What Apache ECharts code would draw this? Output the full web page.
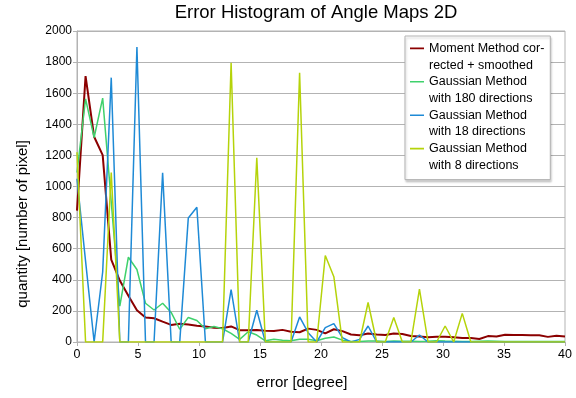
<!DOCTYPE html>
<html>
<head>
<meta charset="utf-8">
<script src="https://cdn.jsdelivr.net/npm/echarts@6/dist/echarts.min.js"></script>
<style>
html,body{margin:0;padding:0;background:#fff;}
#chart{width:576px;height:398px;}
</style>
</head>
<body>
<div id="chart"></div>
<script>
// error bins [degree]
const errorDeg = [0, 0.702, 1.404, 2.105, 2.807, 3.509, 4.211, 4.912, 5.614, 6.316,
  7.018, 7.719, 8.421, 9.123, 9.825, 10.526, 11.228, 11.930, 12.632, 13.333,
  14.035, 14.737, 15.439, 16.140, 16.842, 17.544, 18.246, 18.947, 19.649, 20.351,
  21.053, 21.754, 22.456, 23.158, 23.860, 24.561, 25.263, 25.965, 26.667, 27.368,
  28.070, 28.772, 29.474, 30.175, 30.877, 31.579, 32.281, 32.982, 33.684, 34.386,
  35.088, 35.789, 36.491, 37.193, 37.895, 38.596, 39.298, 40];

const momentSmoothed = [845, 1710, 1320, 1202, 530, 395, 297, 204, 157, 153,
  131, 110, 118, 112, 105, 99, 92, 90, 100, 76,
  75, 77, 72, 71, 78, 66, 63, 86, 78, 55,
  82, 70, 48, 44, 55, 48, 45, 55, 52, 39,
  36, 30, 33, 33, 30, 25, 26, 19, 38, 36,
  47, 45, 45, 44, 44, 33, 40, 35];

const gauss180 = [1090, 1564, 1315, 1568, 900, 230, 545, 466, 249, 206,
  249, 190, 82, 158, 138, 85, 100, 85, 55, 17,
  66, 45, 8, 17, 12, 8, 17, 17, 8, 24,
  32, 12, 3, 3, 6, 6, 4, 6, 5, 5,
  4, 5, 8, 6, 5, 4, 4, 5, 6, 5,
  4, 4, 4, 3, 4, 3, 3, 3];

const gauss18 = [1050, 520, 0, 450, 1700, 0, 0, 1897, 0, 0,
  1088, 0, 0, 798, 867, 0, 0, 0, 337, 0,
  0, 204, 0, 0, 0, 0, 161, 60, 0, 92,
  118, 28, 0, 17, 103, 0, 0, 0, 0, 0,
  45, 0, 0, 0, 0, 0, 0, 0, 0, 0,
  0, 0, 0, 0, 0, 0, 0, 0];

const gauss8 = [1220, 0, 0, 0, 1090, 0, 0, 0, 0, 0,
  0, 0, 0, 0, 0, 0, 0, 0, 1796, 0,
  0, 1185, 0, 0, 0, 0, 1732, 0, 0, 556,
  420, 0, 0, 0, 254, 0, 0, 158, 0, 0,
  340, 0, 0, 103, 0, 184, 0, 0, 0, 0,
  0, 0, 0, 0, 0, 0, 0, 0];

const seriesNames = [
  'Moment Method cor-\nrected + smoothed',
  'Gaussian Method\nwith 180 directions',
  'Gaussian Method\nwith 18 directions',
  'Gaussian Method\nwith 8 directions'
];
const seriesValues = [momentSmoothed, gauss180, gauss18, gauss8];
const seriesColors = ['#8b0000', '#3fd16c', '#1e8ad6', '#b5d30a'];
const seriesWidths = [2, 1.5, 1.5, 1.5];

const xTickInterval = 5;
const yTickInterval = 200;

const FONT = '"Liberation Sans", Arial, sans-serif';
const chart = echarts.init(document.getElementById('chart'), null, {renderer: 'canvas'});

const iconPath = 'path://M0,7.6L14,7.6L14,9.2L0,9.2Z M0,0L0.01,0L0,0.01Z M13.99,33.4L14,33.4L14,33.39Z';

chart.setOption({
  animation: false,
  backgroundColor: '#fff',
  textStyle: {fontFamily: FONT},
  title: {
    text: 'Error Histogram of Angle Maps 2D',
    left: 316,
    textAlign: 'center',
    top: 3,
    padding: 0,
    textStyle: {fontSize: 18.5, fontWeight: 'normal', color: '#000', fontFamily: FONT}
  },
  grid: {
    left: 77, right: 11, top: 31, bottom: 56,
    show: true, borderColor: '#b3b3b3', borderWidth: 1,
    containLabel: false
  },
  legend: {
    orient: 'vertical',
    left: 405,
    top: 36,
    padding: [4, 6, 6, 5],
    itemGap: 0,
    itemWidth: 14,
    itemHeight: 33.4,
    icon: iconPath,
    itemStyle: {borderWidth: 0},
    backgroundColor: '#fff',
    borderColor: '#b3b3b3',
    borderWidth: 1,
    shadowColor: 'rgba(0,0,0,0.18)',
    shadowBlur: 2,
    shadowOffsetX: 1,
    shadowOffsetY: 2,
    textStyle: {fontSize: 12.5, lineHeight: 16.7, color: '#000', fontFamily: FONT},
    data: seriesNames
  },
  xAxis: {
    type: 'value',
    min: 0, max: 40, interval: xTickInterval,
    name: 'error [degree]',
    nameLocation: 'middle',
    nameGap: 33,
    nameTextStyle: {fontSize: 15, color: '#000', fontFamily: FONT, padding: [0, 38, 0, 0]},
    axisLine: {show: true, lineStyle: {color: '#b3b3b3'}},
    axisTick: {show: true, length: 4, lineStyle: {color: '#b3b3b3'}},
    axisLabel: {fontSize: 12.5, color: '#000', margin: 6, fontFamily: FONT},
    splitLine: {show: false}
  },
  yAxis: {
    type: 'value',
    min: 0, max: 2000, interval: yTickInterval,
    name: 'quantity [number of pixel]',
    nameLocation: 'middle',
    nameGap: 47,
    nameRotate: 90,
    nameTextStyle: {fontSize: 15, color: '#000', fontFamily: FONT, padding: [0, 75, 0, 0]},
    axisLine: {show: true, lineStyle: {color: '#b3b3b3'}},
    axisTick: {show: true, length: 4, lineStyle: {color: '#b3b3b3'}},
    axisLabel: {fontSize: 12, color: '#000', margin: 5, fontFamily: FONT,
      formatter: (v) => String(v)},
    splitLine: {show: true, lineStyle: {color: '#b3b3b3', width: 1}}
  },
  series: seriesValues.map((vals, k) => ({
    name: seriesNames[k],
    type: 'line',
    showSymbol: false,
    symbol: 'none',
    color: seriesColors[k],
    lineStyle: {width: seriesWidths[k], color: seriesColors[k]},
    itemStyle: {color: seriesColors[k]},
    data: vals.map((v, i) => [errorDeg[i], v]),
    z: 2 + k
  }))
});
</script>
</body>
</html>
